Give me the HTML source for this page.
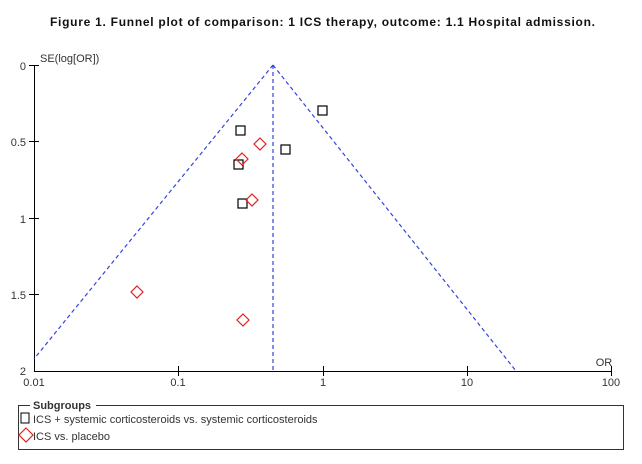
<!DOCTYPE html>
<html><head><style>
body{margin:0;background:#fff;width:642px;height:459px;overflow:hidden}
</style></head><body>
<svg width="642" height="459" xmlns="http://www.w3.org/2000/svg" font-family="Liberation Sans, sans-serif">
<text x="50" y="26" font-size="12" font-weight="bold" fill="#111" textLength="545" lengthAdjust="spacing">Figure 1.   Funnel plot of comparison: 1 ICS therapy, outcome: 1.1 Hospital admission.</text>
<g stroke="#000" stroke-width="1" fill="none">
<line x1="34.5" y1="65" x2="34.5" y2="371"/>
<line x1="34" y1="371.5" x2="612" y2="371.5"/>
<line x1="29" y1="65.5" x2="39" y2="65.5"/>
<line x1="29" y1="141.5" x2="39" y2="141.5"/>
<line x1="29" y1="218.5" x2="39" y2="218.5"/>
<line x1="29" y1="294.5" x2="39" y2="294.5"/>
<line x1="178.5" y1="366" x2="178.5" y2="376"/>
<line x1="323.5" y1="366" x2="323.5" y2="376"/>
<line x1="467.5" y1="366" x2="467.5" y2="376"/>
<line x1="611.5" y1="366" x2="611.5" y2="376"/>
</g>
<g font-size="11" fill="#333">
<text x="26" y="70" text-anchor="end">0</text>
<text x="26" y="146" text-anchor="end">0.5</text>
<text x="26" y="223" text-anchor="end">1</text>
<text x="26" y="299" text-anchor="end">1.5</text>
<text x="26" y="375" text-anchor="end">2</text>
<text x="40" y="62">SE(log[OR])</text>
<text x="34" y="386" text-anchor="middle">0.01</text>
<text x="178" y="386" text-anchor="middle">0.1</text>
<text x="323" y="386" text-anchor="middle">1</text>
<text x="467" y="386" text-anchor="middle">10</text>
<text x="611" y="386" text-anchor="middle">100</text>
<text x="604" y="366" text-anchor="middle">OR</text>
</g>
<g stroke="#3344dd" stroke-width="1.2" stroke-dasharray="4,3" fill="none">
<line x1="273" y1="65" x2="273" y2="371"/>
<line x1="273" y1="65" x2="34" y2="359"/>
<line x1="273" y1="65" x2="516" y2="371"/>
</g>
<g stroke="#000" stroke-width="1.2" fill="none">
<rect x="318" y="106" width="9" height="9"/>
<rect x="236" y="126" width="9" height="9"/>
<rect x="281" y="145" width="9" height="9"/>
<rect x="234" y="160" width="9" height="9"/>
<rect x="238" y="199" width="9" height="9"/>
</g>
<g stroke="#dd2222" stroke-width="1.2" fill="none">
<path d="M260 138l6 6-6 6-6-6z"/>
<path d="M242 153l6 6-6 6-6-6z"/>
<path d="M252 194l6 6-6 6-6-6z"/>
<path d="M137 286l6 6-6 6-6-6z"/>
<path d="M243 314l6 6-6 6-6-6z"/>
</g>
<rect x="18.5" y="405.5" width="605" height="44" fill="none" stroke="#333"/>
<rect x="30" y="399" width="66" height="12" fill="#fff"/>
<text x="33" y="409" font-size="11" font-weight="bold" fill="#333">Subgroups</text>
<rect x="21" y="413" width="8" height="10" fill="none" stroke="#000"/>
<text x="33" y="423" font-size="11" fill="#333">ICS + systemic corticosteroids vs. systemic corticosteroids</text>
<path d="M26 428l7 7-7 7-7-7z" fill="none" stroke="#dd2222" stroke-width="1.2"/>
<text x="33" y="440" font-size="11" fill="#333">ICS vs. placebo</text>
</svg>
</body></html>
